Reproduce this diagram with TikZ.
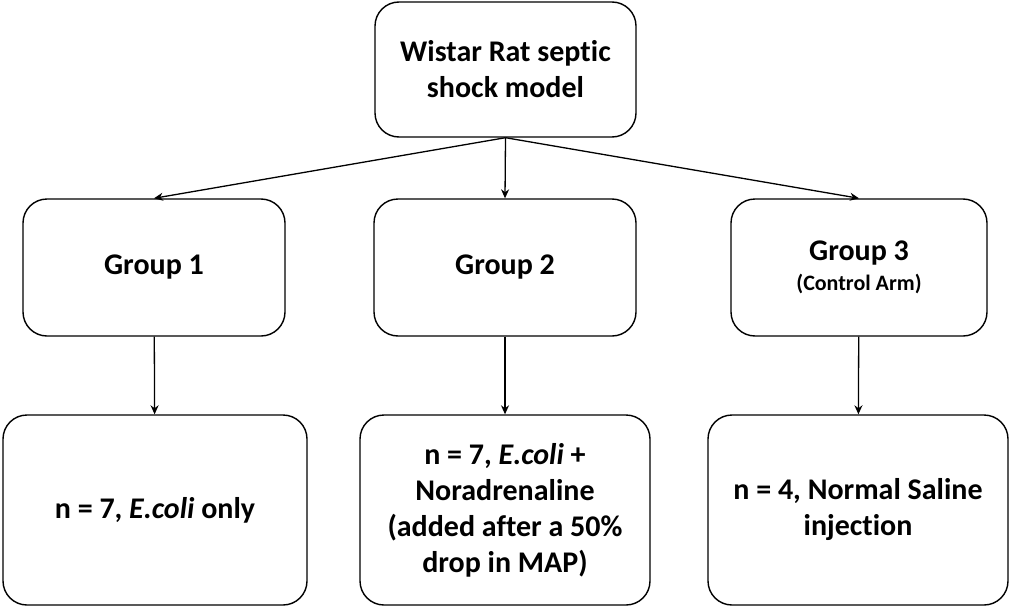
\documentclass[tikz,border=0pt]{standalone}
\usepackage{fontspec}
\setmainfont{Carlito}[Ligatures={NoCommon}]
\usetikzlibrary{arrows.meta}

\begin{document}
\begin{tikzpicture}[x=1pt, y=-1pt,
  box/.style={draw, line width=1.4pt, rounded corners=24pt, align=center,
    font=\fontsize{30}{36}\selectfont\bfseries, inner sep=0pt},
  link/.style={-{Stealth[length=9pt, width=8pt]}, line width=1.3pt}]
\useasboundingbox (0,0) rectangle (1011,610);
\node[box, minimum width=261pt, minimum height=135pt] (model) at (505.5,69.5)
  {Wistar Rat septic\\shock model};
\node[box, minimum width=262pt, minimum height=137pt] (group1) at (154,267.5) {Group 1};
\node[box, minimum width=262pt, minimum height=137pt] (group2) at (505,267.5) {Group 2};
\node[box, minimum width=256pt, minimum height=137pt] (group3) at (859,267.5)
  {Group 3\\[-6pt]{\fontsize{22}{26}\selectfont (Control Arm)}};
\node[box, minimum width=304pt, minimum height=190pt] (arm1) at (155,510)
  {n = 7, \textit{E.coli} only};
\node[box, minimum width=290pt, minimum height=190pt] (arm2) at (505,510)
  {n = 7, \textit{E.coli} +\\Noradrenaline\\(added after a 50\%\\drop in MAP)};
\node[box, minimum width=300pt, minimum height=190pt] (arm3) at (858,510)
  {n = 4, Normal Saline\\injection};
\draw[link] (model.south) -- (group1.north);
\draw[link] (model.south) -- (group2.north);
\draw[link] (model.south) -- (group3.north);
\draw[link] (group1) -- (arm1);
\draw[link] (group2) -- (arm2);
\draw[link] (group3) -- (arm3);
\end{tikzpicture}
\end{document}
